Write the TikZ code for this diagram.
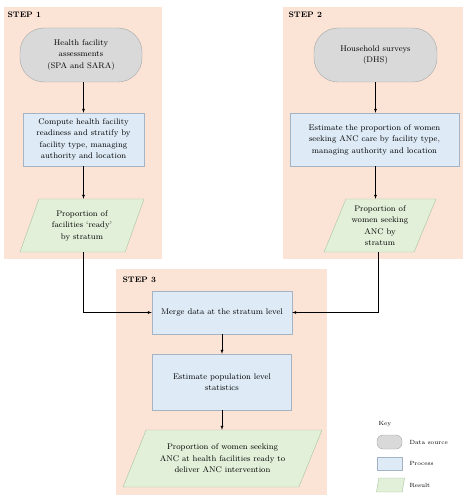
\documentclass[tikz,border=0pt]{standalone}
\usepackage{amsmath}
\usepackage{color}
\usetikzlibrary{shapes.geometric}

\definecolor{panel}{HTML}{FBE4D6}
\definecolor{srcfill}{HTML}{D9D9D9}
\definecolor{srcline}{HTML}{A6A6A6}
\definecolor{procfill}{HTML}{DEEBF7}
\definecolor{procline}{HTML}{A5B4C4}
\definecolor{resfill}{HTML}{E2F0D9}
\definecolor{resline}{HTML}{A9C39C}

\begin{document}
\begin{tikzpicture}[x=1pt,y=-1pt,
    font=\fontsize{8.2}{11.5}\selectfont,
    datasrc/.style={draw=srcline,fill=srcfill,rounded corners=24pt,align=center},
    process/.style={draw=procline,fill=procfill,align=center},
    result/.style={draw=resline,fill=resfill,align=center,shape=trapezium,
        trapezium left angle=63,trapezium right angle=117,
        trapezium stretches body},
    steplabel/.style={anchor=west,font=\fontsize{8}{9}\selectfont\bfseries},
    keylabel/.style={anchor=west,font=\fontsize{6}{7}\selectfont}]
    \useasboundingbox (0,0) rectangle (472,500);
    % panels
    \fill[panel] (4,7) rectangle (162,259);
    \fill[panel] (283,7) rectangle (463,259);
    \fill[panel] (116,269) rectangle (327,495);
    \node[steplabel] (step1) at (4,15) {STEP 1};
    \node[steplabel] (step2) at (285,15) {STEP 2};
    \node[steplabel] (step3) at (119,280) {STEP 3};

    % step 1
    \node[datasrc,minimum width=122pt,minimum height=54pt] (src1) at (81,55)
        {Health facility\\assessments\\(SPA and SARA)};
    \node[process,minimum width=121pt,minimum height=53pt] (proc1) at (83.5,139.5)
        {Compute health facility\\readiness and stratify by\\facility type, managing\\authority and location};
    \node[result,minimum width=124pt,minimum height=53pt] (res1) at (82,225.5)
        {Proportion of\\facilities `ready'\\by stratum};
    \draw[-latex] (src1.south -| proc1.north) -- (proc1.north);
    \draw[-latex] (proc1.south) -- (res1.north -| proc1.south);

    % step 2
    \node[datasrc,minimum width=123pt,minimum height=54pt] (src2) at (375.5,55)
        {Household surveys\\(DHS)};
    \node[process,minimum width=169pt,minimum height=53pt] (proc2) at (374.5,139.5)
        {Estimate the proportion of women\\seeking ANC care by facility type,\\managing authority and location};
    \node[result,minimum width=112pt,minimum height=53pt,
        trapezium left angle=65,trapezium right angle=115] (res2) at (380,225.5)
        {Proportion of\\women seeking\\ANC by\\stratum};
    \draw[-latex] (src2.south) -- (src2.south |- proc2.north);
    \draw[-latex] (proc2.south -| src2.south) -- (src2.south |- res2.north);

    % step 3
    \node[process,minimum width=140pt,minimum height=43pt] (merge) at (222,312.5)
        {Merge data at the stratum level};
    \node[process,minimum width=139pt,minimum height=56pt] (est) at (222,382)
        {Estimate population level\\statistics};
    \node[result,minimum width=199pt,minimum height=57pt,
        trapezium left angle=57,trapezium right angle=123] (res3) at (222.5,458.5)
        {Proportion of women seeking\\ANC at health facilities ready to\\deliver ANC intervention};
    \draw[-latex] (merge.south) -- (est.north);
    \draw[-latex] (est.south) -- (est.south |- res3.north);
    \draw[-latex] (res1.south -| proc1.south) |- (merge.west);
    \draw[-latex] (res2.south -| 378,0) |- (merge.east);

    % key
    \node[anchor=west,font=\fontsize{6}{7}\selectfont] (key) at (375,424) {Key};
    \node[datasrc,minimum width=25pt,minimum height=14pt,rounded corners=6pt,inner sep=0pt] (keysrc) at (389.5,442) {};
    \node[keylabel] (keysrclbl) at (406,442) {Data source};
    \node[process,minimum width=25pt,minimum height=13pt,inner sep=0pt] (keyproc) at (389.5,463.5) {};
    \node[keylabel] (keyproclbl) at (406,463.5) {Process};
    \node[result,minimum width=28pt,minimum height=14pt,inner xsep=4pt,inner ysep=0pt,
        trapezium left angle=68,trapezium right angle=112] (keyres) at (390.5,485) {\vphantom{X}};
    \node[keylabel] (keyreslbl) at (406,485) {Result};
\end{tikzpicture}
\end{document}
